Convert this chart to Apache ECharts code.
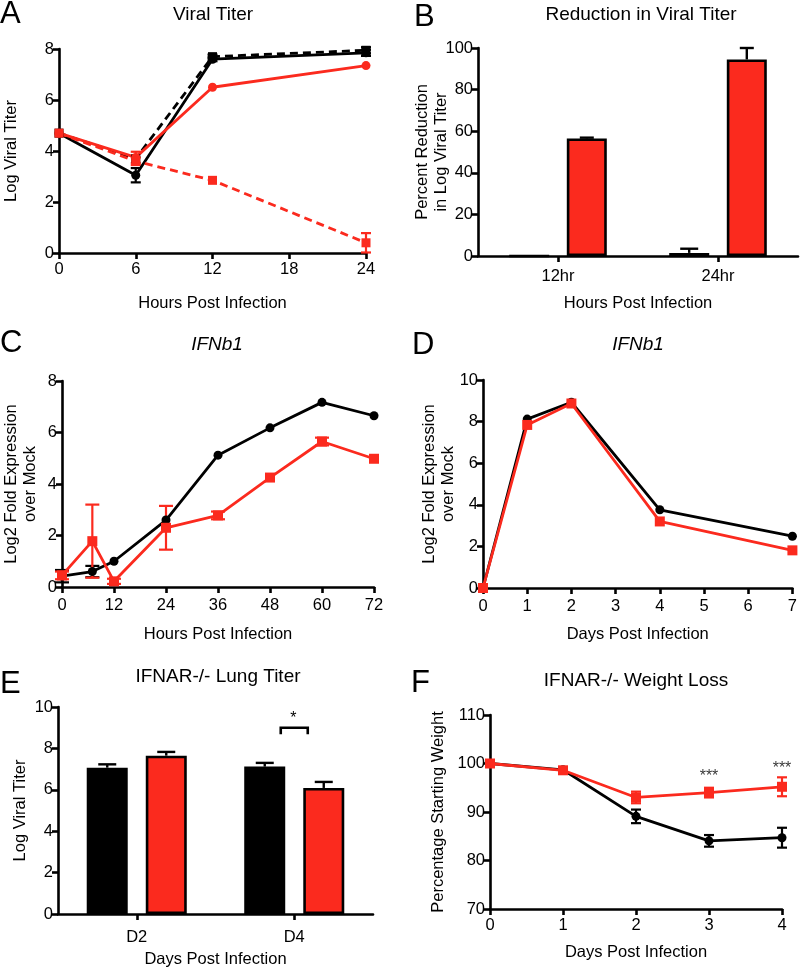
<!DOCTYPE html>
<html><head><meta charset="utf-8">
<script src="https://cdn.jsdelivr.net/npm/echarts@6/dist/echarts.min.js"></script>
<style>html,body{margin:0;padding:0;background:#fff}#c{width:800px;height:971px}</style>
</head><body><div id="c"></div>
<script>
// ---------- Panel A: Viral Titer ----------
const aHours = [0, 6, 12, 24];
const aBlackSolid = [4.7, 3.05, 7.6, 7.85];
const aBlackSolidErr = [0, 0.28, 0.08, 0.12];
const aBlackDash = [4.7, 3.7, 7.7, 7.95];
const aBlackDashErr = [0, 0, 0.08, 0.12];
const aRedSolid = [4.7, 3.75, 6.5, 7.35];
const aRedSolidErr = [0, 0.22, 0, 0];
const aRedDash = [4.7, 3.6, 2.85, 0.4];
const aRedDashErr = [0, 0.15, 0, 0.38];
// ---------- Panel B: Reduction in Viral Titer ----------
const bCategories = ['12hr', '24hr'];
const bBlack = [0, 1.5];
const bBlackErr = [0, 2.0];
const bRed = [56.5, 94.5];
const bRedErr = [0.4, 5.5];
// ---------- Panel C: IFNb1 (hours) ----------
const cHours = [0, 7, 12, 24, 36, 48, 60, 72];
const cBlack = [0.42, 0.6, 1.0, 2.6, 5.12, 6.18, 7.17, 6.65];
const cBlackErr = [0.24, 0.22, 0, 0, 0, 0, 0, 0];
const cRed = [0.45, 1.78, 0.22, 2.3, 2.78, 4.25, 5.65, 4.98];
const cRedErr = [0.15, 1.42, 0.1, 0.85, 0.15, 0, 0.15, 0];
// ---------- Panel D: IFNb1 (days) ----------
const dDays = [0, 1, 2, 4, 7];
const dBlack = [0, 8.12, 8.93, 3.76, 2.49];
const dRed = [0, 7.84, 8.87, 3.2, 1.81];
// ---------- Panel E: IFNAR-/- Lung Titer ----------
const eCategories = ['D2', 'D4'];
const eBlack = [7.07, 7.12];
const eBlackErr = [0.16, 0.18];
const eRed = [7.65, 6.09];
const eRedErr = [0.18, 0.29];
const eBracket = [[1, 9.0, 8.68]];
const eStar = ['*'];
// ---------- Panel F: IFNAR-/- Weight Loss ----------
const fDays = [0, 1, 2, 3, 4];
const fBlack = [100, 98.7, 89.1, 84.05, 84.7];
const fBlackErr = [0, 0.3, 1.4, 1.2, 2.05];
const fRed = [100, 98.6, 93.0, 94.0, 95.2];
const fRedErr = [0, 0.3, 1.2, 1.0, 1.95];
const fStarDays = [3, 4];
const fStarY = [97.2, 99.0];
const fStarText = ['***', '***'];

const FONT = 'Liberation Sans, Arial, sans-serif';
const RED = '#fb2a1e';
const BLACK = '#000';
const TICK_FS = 16.5;
const NAME_FS = 16.5;

function axisBase() {
  return {
    axisLine: {show: true, onZero: false, lineStyle: {color: BLACK, width: 2.6}},
    axisTick: {show: true, inside: false, length: 6, lineStyle: {color: BLACK, width: 2.6}},
    splitLine: {show: false},
    nameLocation: 'middle',
    nameMoveOverlap: false,
    nameTextStyle: {color: BLACK, fontSize: NAME_FS, fontFamily: FONT, lineHeight: 19}
  };
}
function valX(grid, min, max, interval, name, gap, margin) {
  return Object.assign(axisBase(), {
    type: 'value', gridIndex: grid, min, max, interval, name, nameGap: gap,
    axisLabel: {color: BLACK, fontSize: TICK_FS, fontFamily: FONT, margin}
  });
}
function catX(grid, cats, name, gap, margin) {
  const a = axisBase();
  a.axisTick.alignWithLabel = true;
  return Object.assign(a, {
    type: 'category', gridIndex: grid, data: cats, name, nameGap: gap,
    axisLabel: {color: BLACK, fontSize: TICK_FS, fontFamily: FONT, margin}
  });
}
function valY(grid, min, max, interval, name, gap) {
  return Object.assign(axisBase(), {
    type: 'value', gridIndex: grid, min, max, interval, name, nameGap: gap,
    axisLabel: {color: BLACK, fontSize: TICK_FS, fontFamily: FONT, margin: 5}
  });
}

function errSeries(xi, xs, ys, es, color, cap) {
  return {
    type: 'custom', xAxisIndex: xi, yAxisIndex: xi, clip: false, z: 3,
    encode: {x: 0, y: 1},
    data: xs.map((x, i) => [x, ys[i], es[i]]),
    renderItem: function (params, api) {
      const e = api.value(2);
      if (!e) return null;
      const x = api.value(0), y = api.value(1);
      const t = api.coord([x, y + e]), b = api.coord([x, y - e]);
      const st = {stroke: color, lineWidth: 2.2};
      return {type: 'group', children: [
        {type: 'line', shape: {x1: t[0], y1: t[1], x2: b[0], y2: b[1]}, style: st},
        {type: 'line', shape: {x1: t[0] - cap, y1: t[1], x2: t[0] + cap, y2: t[1]}, style: st},
        {type: 'line', shape: {x1: b[0] - cap, y1: b[1], x2: b[0] + cap, y2: b[1]}, style: st}
      ]};
    }
  };
}
function barErrSeries(xi, ys, es, offset, cap) {
  return {
    type: 'custom', xAxisIndex: xi, yAxisIndex: xi, clip: false, z: 1,
    encode: {x: 0, y: 1},
    data: ys.map((y, i) => [i, y, es[i]]),
    renderItem: function (params, api) {
      const e = api.value(2);
      if (!e) return null;
      const i = api.value(0), y = api.value(1);
      const t = api.coord([i, y + e]), b = api.coord([i, y]);
      const x = t[0] + offset;
      const st = {stroke: BLACK, lineWidth: 2.4};
      return {type: 'group', children: [
        {type: 'line', shape: {x1: x, y1: t[1], x2: x, y2: b[1]}, style: st},
        {type: 'line', shape: {x1: x - cap, y1: t[1], x2: x + cap, y2: t[1]}, style: st}
      ]};
    }
  };
}
function lineSeries(xi, xs, ys, color, symbol, dashed, size) {
  return {
    type: 'line', xAxisIndex: xi, yAxisIndex: xi, z: 4,
    data: xs.map((x, i) => [x, ys[i]]),
    symbol, symbolSize: size || 9, showSymbol: true,
    lineStyle: {color, width: 2.8, type: dashed ? [8, 5] : 'solid'},
    itemStyle: {color, borderWidth: 0},
    emphasis: {disabled: true}
  };
}
function barSeries(xi, ys, color, width) {
  return {
    type: 'bar', xAxisIndex: xi, yAxisIndex: xi, z: 2,
    data: ys, barWidth: width, barGap: '44%',
    itemStyle: {color, borderColor: BLACK, borderWidth: 2.6},
    emphasis: {disabled: true}
  };
}

function txt(x, y, text, font, align) {
  return {type: 'text', x, y, silent: true,
    style: {text, font, fill: BLACK, textAlign: align || 'center', align: align || 'center',
      textVerticalAlign: 'middle', verticalAlign: 'middle'}};
}

const chart = echarts.init(document.getElementById('c'), null, {renderer: 'canvas'});
const option = {
  animation: false,
  backgroundColor: '#fff',
  grid: [
    {left: 59, top: 49, width: 307, height: 204},
    {left: 478, top: 48, width: 320, height: 208},
    {left: 62, top: 381, width: 312, height: 206},
    {left: 483, top: 380, width: 310, height: 208},
    {left: 58, top: 707, width: 315, height: 207},
    {left: 490, top: 715, width: 292, height: 194}
  ],
  xAxis: [
    valX(0, 0, 24, 6, 'Hours Post Infection', 41, 8),
    catX(1, bCategories, 'Hours Post Infection', 38, 12),
    valX(2, 0, 72, 12, 'Hours Post Infection', 38, 10),
    valX(3, 0, 7, 1, 'Days Post Infection', 37, 10),
    catX(4, eCategories, 'Days Post Infection', 36, 15),
    valX(5, 0, 4, 1, 'Days Post Infection', 34, 8)
  ],
  yAxis: [
    valY(0, 0, 8, 2, 'Log Viral Titer', 38),
    valY(1, 0, 100, 20, 'Percent Reduction\nin Log Viral Titer', 27),
    valY(2, 0, 8, 2, 'Log2 Fold Expression\nover Mock', 22),
    valY(3, 0, 10, 2, 'Log2 Fold Expression\nover Mock', 25),
    valY(4, 0, 10, 2, 'Log Viral Titer', 28),
    valY(5, 70, 110, 10, 'Percentage Starting Weight', 42)
  ],
  series: [
    // A
    errSeries(0, aHours, aBlackSolid, aBlackSolidErr, BLACK, 5),
    errSeries(0, aHours, aBlackDash, aBlackDashErr, BLACK, 5),
    lineSeries(0, aHours, aBlackSolid, BLACK, 'circle', false),
    lineSeries(0, aHours, aBlackDash, BLACK, 'rect', true),
    errSeries(0, aHours, aRedSolid, aRedSolidErr, RED, 5),
    errSeries(0, aHours, aRedDash, aRedDashErr, RED, 5),
    lineSeries(0, aHours, aRedSolid, RED, 'circle', false),
    lineSeries(0, aHours, aRedDash, RED, 'rect', true),
    // B
    barSeries(1, bBlack, BLACK, 40),
    barSeries(1, bRed, RED, 40),
    barErrSeries(1, bBlack, bBlackErr, -28.8, 9),
    barErrSeries(1, bRed, bRedErr, 28.8, 7),
    // C
    errSeries(2, cHours, cBlack, cBlackErr, BLACK, 7),
    lineSeries(2, cHours, cBlack, BLACK, 'circle', false),
    errSeries(2, cHours, cRed, cRedErr, RED, 7),
    lineSeries(2, cHours, cRed, RED, 'rect', false, 10),
    // D
    lineSeries(3, dDays, dBlack, BLACK, 'circle', false),
    lineSeries(3, dDays, dRed, RED, 'rect', false, 10),
    // E
    barSeries(4, eBlack, BLACK, 41),
    barSeries(4, eRed, RED, 41),
    barErrSeries(4, eBlack, eBlackErr, -29.5, 9),
    barErrSeries(4, eRed, eRedErr, 29.5, 9),
    {
      type: 'custom', xAxisIndex: 4, yAxisIndex: 4, clip: false, z: 5,
      encode: {x: 0, y: 1},
      data: eBracket.map((d, i) => [d[0], d[1], d[2]]),
      renderItem: function (params, api) {
        const top = api.coord([api.value(0), api.value(1)]);
        const leg = api.coord([api.value(0), api.value(2)]);
        const h = 13.5;
        return {type: 'group', children: [
          {type: 'polyline', shape: {points: [[top[0] - h, leg[1]], [top[0] - h, top[1]], [top[0] + h, top[1]], [top[0] + h, leg[1]]]},
            style: {stroke: BLACK, lineWidth: 2.6, fill: null}},
          {type: 'text', x: top[0] - 1, y: top[1] - 1,
            style: {text: eStar[params.dataIndex], font: '16px ' + FONT, fill: BLACK,
              align: 'center', verticalAlign: 'bottom', textAlign: 'center', textVerticalAlign: 'bottom'}}
        ]};
      }
    },
    // F
    errSeries(5, fDays, fBlack, fBlackErr, BLACK, 5),
    lineSeries(5, fDays, fBlack, BLACK, 'circle', false),
    errSeries(5, fDays, fRed, fRedErr, RED, 5),
    lineSeries(5, fDays, fRed, RED, 'rect', false, 10),
    {
      type: 'scatter', xAxisIndex: 5, yAxisIndex: 5, z: 5,
      data: fStarDays.map((d, i) => [d, fStarY[i], fStarText[i]]),
      symbolSize: 0,
      label: {show: true, position: 'inside', formatter: p => p.value[2],
        color: BLACK, fontSize: 16, fontFamily: FONT},
      emphasis: {disabled: true}
    }
  ],
  graphic: [
    txt(0, 14, 'A', '31px ' + FONT, 'left'),
    txt(213, 15, 'Viral Titer', '19px ' + FONT),
    txt(414, 17, 'B', '31px ' + FONT, 'left'),
    txt(641, 15, 'Reduction in Viral Titer', '19px ' + FONT),
    txt(0, 343, 'C', '31px ' + FONT, 'left'),
    txt(217, 345, 'IFNb1', 'italic 19px ' + FONT),
    txt(412, 345, 'D', '31px ' + FONT, 'left'),
    txt(638, 345, 'IFNb1', 'italic 19px ' + FONT),
    txt(0, 684, 'E', '31px ' + FONT, 'left'),
    txt(218, 677, 'IFNAR-/- Lung Titer', '19px ' + FONT),
    txt(411, 683, 'F', '31px ' + FONT, 'left'),
    txt(636, 681, 'IFNAR-/- Weight Loss', '19px ' + FONT)
  ]
};
chart.setOption(option);
</script>
</body></html>
